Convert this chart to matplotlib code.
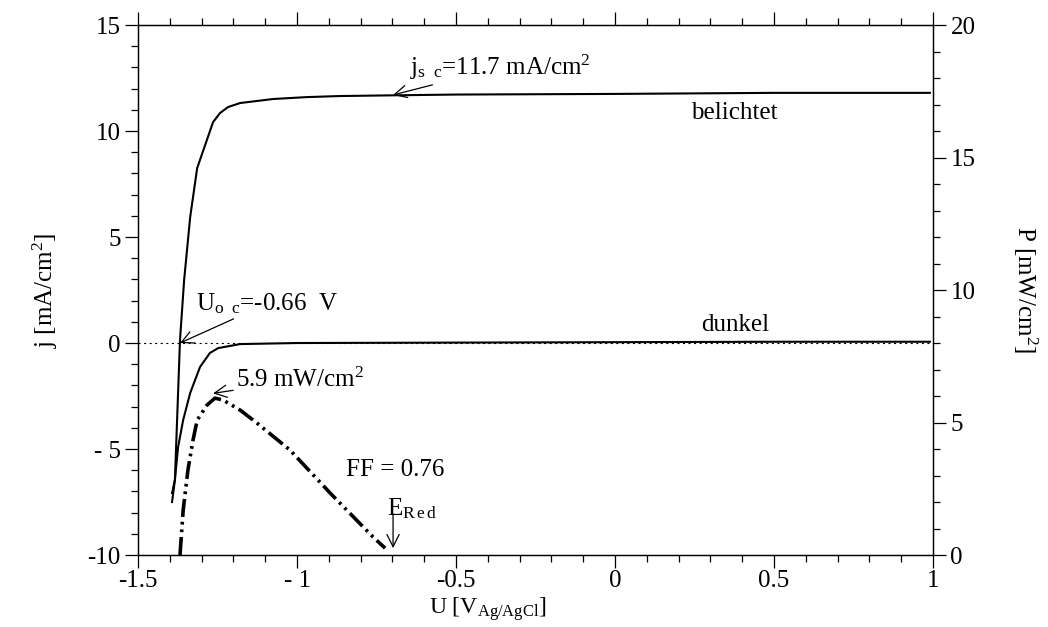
import matplotlib
matplotlib.use('Agg')
import matplotlib.pyplot as plt
from matplotlib.ticker import MultipleLocator, FixedLocator, FixedFormatter

plt.rcParams['font.family'] = ['Liberation Serif', 'DejaVu Serif']
plt.rcParams['mathtext.fontset'] = 'custom'
plt.rcParams['mathtext.rm'] = 'Liberation Serif'
plt.rcParams['mathtext.it'] = 'Liberation Serif:italic'
plt.rcParams['lines.scale_dashes'] = False

# illuminated j-U curve (left axis, mA/cm^2)
u_light = [-1.393, -1.384, -1.368, -1.355, -1.336, -1.314, -1.264, -1.242,
           -1.217, -1.179, -1.075, -0.969, -0.865, -0.717, -0.5, 0.0, 0.5, 0.99]
j_light = [-7.5, -6.46, 0.14, 2.97, 5.94, 8.25, 10.42, 10.85,
           11.13, 11.32, 11.51, 11.60, 11.65, 11.68, 11.72, 11.75, 11.8, 11.8]

# dark j-U curve
u_dark = [-1.393, -1.384, -1.374, -1.358, -1.336, -1.305, -1.274, -1.248,
          -1.179, -1.0, -0.5, 0.0, 0.5, 0.99]
j_dark = [-7.08, -6.46, -4.91, -3.63, -2.36, -1.13, -0.47, -0.24,
          -0.05, 0.0, 0.02, 0.04, 0.06, 0.06]

# power curve (right axis, mW/cm^2)
u_pow = [-1.368, -1.358, -1.343, -1.327, -1.314, -1.283, -1.258, -1.233,
         -1.179, -1.126, -1.022, -0.896, -0.761, -0.723]
p_pow = [0.0, 1.70, 3.21, 4.34, 5.09, 5.66, 5.92, 5.85,
         5.47, 4.98, 3.96, 2.34, 0.68, 0.26]

x_ticks = [-1.5, -1.0, -0.5, 0.0, 0.5, 1.0]
x_labels = ['-1.5', '- 1', '-0.5', '0', '0.5', '1']
j_ticks = [-10, -5, 0, 5, 10, 15]
j_labels = ['-10', '- 5', '0', '5', '10', '15']
p_ticks = [0, 5, 10, 15, 20]
p_labels = ['0', '5', '10', '15', '20']

fs = 18

fig = plt.figure(figsize=(10.48, 6.27), dpi=100)
ax = fig.add_axes([0.1317, 0.1148, 0.7586, 0.8453])
ax2 = ax.twinx()

ax.plot(u_light, j_light, color='black', lw=1.5)
ax.plot(u_dark, j_dark, color='black', lw=1.5)
ax.axhline(0, color='black', lw=0.8, ls=(0, (1.5, 2.5)))
pline, = ax2.plot(u_pow, p_pow, color='black', lw=2.6)
pline.set_dashes([13, 3.5, 2, 3.5, 2, 3.5])

ax.set_xlim(-1.5, 1.0)
ax.set_ylim(-10, 15)
ax2.set_ylim(0, 20)

ax.xaxis.set_major_locator(FixedLocator(x_ticks))
ax.xaxis.set_major_formatter(FixedFormatter(x_labels))
ax.xaxis.set_minor_locator(MultipleLocator(0.1))
ax.yaxis.set_major_locator(FixedLocator(j_ticks))
ax.yaxis.set_major_formatter(FixedFormatter(j_labels))
ax.yaxis.set_minor_locator(MultipleLocator(1))
ax2.yaxis.set_major_locator(FixedLocator(p_ticks))
ax2.yaxis.set_major_formatter(FixedFormatter(p_labels))
ax2.yaxis.set_minor_locator(MultipleLocator(1))

for a in (ax, ax2):
    a.tick_params(which='major', direction='out', length=9.5, width=0.9,
                  labelsize=fs, pad=3)
    a.tick_params(which='minor', direction='out', length=5, width=0.9)
    for s in a.spines.values():
        s.set_linewidth(0.9)
ax.tick_params(which='both', top=True, bottom=True, left=True, right=False,
               labeltop=False)
ax.tick_params(axis='x', which='major', pad=1)

ax.set_xlabel(r'U [V$_{\mathrm{Ag/AgCl}}$]', fontsize=17, va='baseline')
ax.xaxis.set_label_coords(0.44, -0.11)
ax.set_ylabel(r'j [mA/cm$^{2}$]', fontsize=fs, va='center')
ax.yaxis.set_label_coords(-0.117, 0.5)
ax2.set_ylabel(r'P [mW/cm$^{2}$]', fontsize=fs, rotation=-90, va='center')
ax2.yaxis.set_label_coords(1.116, 0.5)

arrow = dict(arrowstyle='->', color='black', lw=0.9, shrinkA=0, shrinkB=0,
             mutation_scale=22)

ax.annotate(r'j$_{\mathrm{s\ \ c}}$=11.7 mA/cm$^{2}$', xy=(-0.698, 11.7),
            xytext=(-0.645, 13.0), fontsize=fs, va='center', ha='left',
            arrowprops=arrow)
ax.annotate(r'U$_{\mathrm{o\ \ c}}$=-0.66  V', xy=(-1.368, 0.0),
            xytext=(-1.318, 1.85), fontsize=fs, va='center', ha='left',
            arrowprops=arrow)
ax.text(0.374, 10.85, 'belichtet', fontsize=fs, ha='center', va='center')
ax.text(0.377, 0.85, 'dunkel', fontsize=fs, ha='center', va='center')
ax.text(-0.692, -6.0, 'FF = 0.76', fontsize=fs, ha='center', va='center')
ax2.annotate(r'5.9 mW/cm$^{2}$', xy=(-1.264, 6.1), xytext=(-1.192, 6.6),
             fontsize=fs, va='center', ha='left', arrowprops=arrow)
ax2.annotate('', xy=(-0.698, 0.26), xytext=(-0.698, 1.55), arrowprops=arrow)
ax2.text(-0.716, 1.75, r'E$_{\mathrm{R\,e\,d}}$', fontsize=fs, ha='left',
         va='center')

fig.savefig('out.png', dpi=100)
